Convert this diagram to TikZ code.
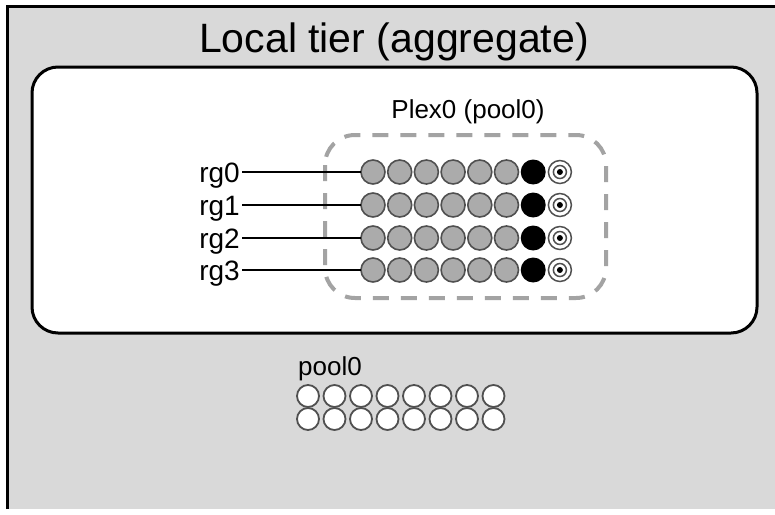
\documentclass[tikz,border=0pt]{standalone}
\usepackage{fontspec}
\setmainfont{Liberation Sans}
\definecolor{bggray}{HTML}{D9D9D9}
\definecolor{diskgray}{HTML}{ABABAB}
\definecolor{diskedge}{HTML}{505050}
\definecolor{dashgray}{HTML}{A3A3A3}
\begin{document}
\begin{tikzpicture}[x=1pt,y=-1pt,
  disk/.style={circle,draw=diskedge,line width=1.6pt,fill=diskgray,minimum size=24pt,inner sep=0pt,outer sep=0pt},
  pardisk/.style={circle,draw=none,fill=black,minimum size=25pt,inner sep=0pt,outer sep=0pt},
  spdisk/.style={circle,draw=diskedge,line width=1.5pt,fill=white,minimum size=23pt,inner sep=0pt,outer sep=0pt},
  freedisk/.style={circle,draw=diskedge,line width=1.8pt,fill=white,minimum size=22pt,inner sep=0pt,outer sep=0pt},
  rglabel/.style={anchor=base east,inner sep=2pt,font=\fontsize{28}{30}\selectfont},
  lbl/.style={inner sep=0pt,font=\fontsize{26}{28}\selectfont}]
\useasboundingbox (0,0) rectangle (775,514);
\fill[white] (0,0) rectangle (775,514);
% outer tier background
\fill[bggray] (7,6) rectangle (775,509);
\draw[black,line width=3pt] (7,509) -- (7,6) -- (775,6);
\node[anchor=base,inner sep=0pt,font=\fontsize{41}{44}\selectfont] (title) at (394,52) {Local tier (aggregate)};
% aggregate white box
\draw[black,line width=3pt,fill=white,rounded corners=26pt] (32,67) rectangle (757,333);
% plex dashed box
\draw[dashgray,line width=4pt,dash pattern=on 16pt off 12pt,rounded corners=30pt] (325,135) rectangle (606,298);
\node[lbl,anchor=base] (plex) at (468,118) {Plex0 (pool0)};
% raid groups
\foreach \r/\yy in {0/172,1/205,2/238,3/270}{
  \foreach \i in {0,...,5}{
    \node[disk] (d\r\i) at (373+26.7*\i,\yy) {};
  }
  \node[pardisk] (d\r6) at (373+26.7*6,\yy) {};
  \node[spdisk] (d\r7) at (373+26.7*7,\yy) {};
  \draw[diskedge,line width=1.5pt] (d\r7.center) circle (6.5pt);
  \fill[black] (d\r7.center) circle (3pt);
  \node[rglabel] (rg\r) at (242,\yy+10) {rg\r};
  \draw[black,line width=1.5pt] (rg\r.east |- d\r0.west) -- (d\r0.west);
}
% spare pool
\node[lbl,anchor=base west] (pool) at (298,375) {pool0};
\foreach \r/\yy in {0/396,1/419}{
  \foreach \i in {0,...,7}{
    \node[freedisk] (p\r\i) at (308+26.5*\i,\yy) {};
  }
}
\end{tikzpicture}
\end{document}
